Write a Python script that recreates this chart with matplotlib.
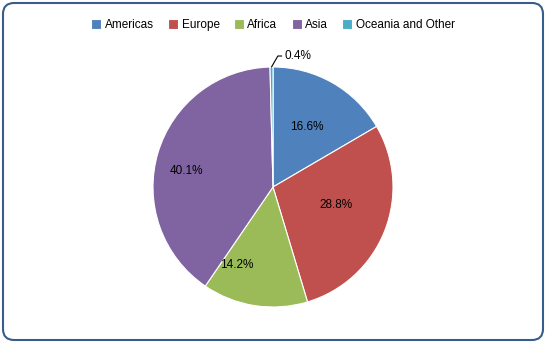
import numpy as np
import matplotlib
matplotlib.use('Agg')
import matplotlib.pyplot as plt
from matplotlib.patches import FancyBboxPatch

# data
regions = ['Americas', 'Europe', 'Africa', 'Asia', 'Oceania and Other']
shares = [16.6, 28.8, 14.2, 40.1, 0.4]
colors = ['#4F81BD', '#C0504D', '#9BBB59', '#8064A2', '#4BACC6']
label_text = ['16.6%', '28.8%', '14.2%', '40.1%', '0.4%']

plt.rcParams['font.family'] = ['Liberation Sans', 'DejaVu Sans']

fig = plt.figure(figsize=(5.46, 3.43), dpi=100)
ax = fig.add_axes([0, 0, 1, 1])

# border
border = FancyBboxPatch((3, 3), 540, 337, boxstyle='round,pad=0,rounding_size=11',
                        fc='white', ec='#385D8A', lw=1.5, zorder=0)
ax.add_patch(border)

cx, cy, r = 273, 156, 120
wedges, _ = ax.pie(shares, colors=colors, startangle=90, counterclock=False,
                   center=(cx, cy), radius=r, frame=True,
                   wedgeprops=dict(edgecolor='white', linewidth=0.8))
ax.set_xlim(0, 546)
ax.set_ylim(0, 343)
ax.set_aspect('equal')
ax.axis('off')

# label positions (radius fraction, angle in degrees) tuned by eye
label_pos = [(0.575, 60.5), (0.55, -16), (0.72, -115), (0.73, 169.5)]
for i, (rf, ang) in enumerate(label_pos):
    a = np.deg2rad(ang)
    ax.text(cx + rf * r * np.cos(a), cy + rf * r * np.sin(a), label_text[i],
            ha='center', va='center', fontsize=8.5, color='black')

# small slice label with leader line
w = wedges[4]
mid = np.deg2rad((w.theta1 + w.theta2) / 2)
px, py = cx + r * np.cos(mid), cy + r * np.sin(mid)
ax.annotate(label_text[4], xy=(px, py), xytext=(px + 13, py + 11),
            fontsize=8.5, ha='left', va='center',
            arrowprops=dict(arrowstyle='-', color='black', lw=0.8,
                            connectionstyle='angle,angleA=0,angleB=60,rad=0',
                            shrinkA=0, shrinkB=0))

leg = ax.legend(wedges, regions, loc='upper center', bbox_to_anchor=(0.5, 0.975),
                ncol=5, frameon=False, fontsize=8.5, handlelength=0.85,
                handleheight=0.85, handletextpad=0.3, columnspacing=1.2)

fig.savefig('out.png', dpi=100)
